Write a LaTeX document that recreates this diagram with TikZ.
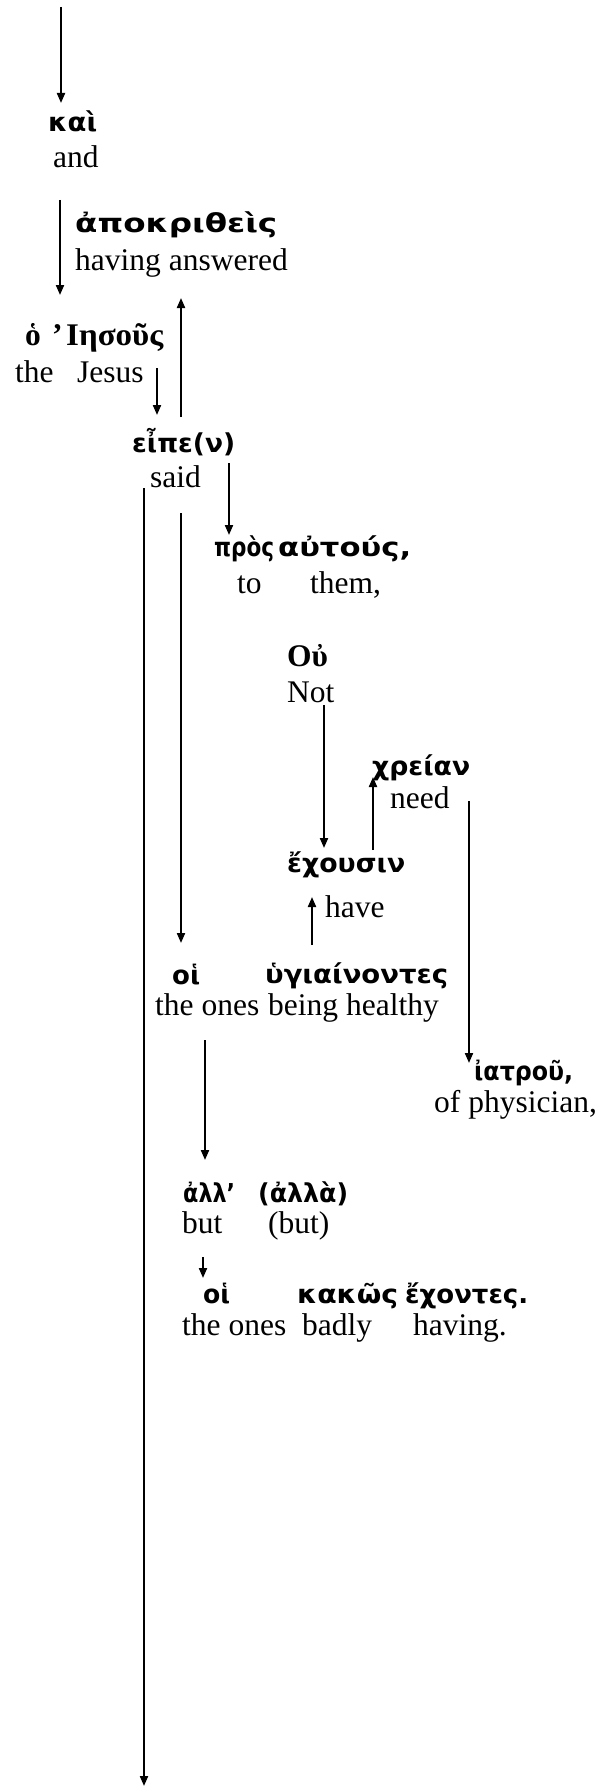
\documentclass[tikz,border=0pt]{standalone}
\usepackage{graphicx}
\usepackage{fontspec}
\setmainfont{Liberation Serif}
\newfontfamily\gkfont{DejaVu Sans}
\usetikzlibrary{arrows.meta}
\newcommand\gw[2]{\resizebox{#1pt}{\height}{#2}}
\begin{document}
\begin{tikzpicture}[x=1pt,y=-1pt,
  gr/.style={anchor=base west,inner sep=0pt,font=\gkfont\bfseries\fontsize{26}{30}\selectfont},
  en/.style={anchor=base west,inner sep=0pt,font=\fontsize{31.5}{36}\selectfont},
  sb/.style={anchor=base west,inner sep=0pt,font=\bfseries\fontsize{31.5}{36}\selectfont},
  arr/.style={line width=2pt,-{Triangle[length=10pt,width=8pt]}}]
\useasboundingbox (0,0) rectangle (598,1787);
% texts
\node[gr] (kai) at (48,132) {\gw{49}{καὶ}};
\node[en] (kaiE) at (53,168) {and};
\node[gr] (apo) at (75,233) {\gw{202}{ἀποκριθεὶς}};
\node[en] (apoE) at (75,270) {having answered};
\node[sb] (ho) at (25,345) {ὁ};
\node[sb] (apos) at (52,345) {’};
\node[sb] (ies) at (66,345) {\gw{97}{Ιησοῦς}};
\node[en] (iesE1) at (15,382) {the};
\node[en] (iesE2) at (77,382) {Jesus};
\node[gr] (eipe) at (132,452) {\gw{103}{εἶπε(ν)}};
\node[en] (eipeE) at (150,487) {said};
\node[gr] (pros) at (214,556) {\gw{60}{πρὸς}};
\node[gr] (autous) at (278,556) {\gw{133}{αὐτούς,}};
\node[en] (prosE) at (237,593) {to};
\node[en] (autousE) at (310,593) {them,};
\node[sb] (ou) at (287,666) {Οὐ};
\node[en] (ouE) at (287,702) {Not};
\node[gr] (chreian) at (372,775) {\gw{98}{χρείαν}};
\node[en] (chreianE) at (390,808) {need};
\node[gr] (echousin) at (287,872) {\gw{118}{ἔχουσιν}};
\node[en] (echousinE) at (325,917) {have};
\node[gr] (hoi1) at (172,984) {\gw{28}{οἱ}};
\node[gr] (hyg) at (265,983) {\gw{183}{ὑγιαίνοντες}};
\node[en] (hoi1E) at (155,1015) {the ones};
\node[en] (hygE) at (268,1015) {being healthy};
\node[gr] (iatrou) at (474,1080) {\gw{99}{ἰατροῦ,}};
\node[en] (iatrouE) at (434,1112) {of physician,};
\node[gr] (all) at (183,1202) {\gw{52}{ἀλλ’}};
\node[gr] (alla) at (258,1202) {\gw{90}{(ἀλλὰ)}};
\node[en] (allE) at (182,1233) {but};
\node[en] (allaE) at (268,1233) {(but)};
\node[gr] (hoi2) at (203,1303) {\gw{27}{οἱ}};
\node[gr] (kakos) at (297,1303) {\gw{101}{κακῶς}};
\node[gr] (echontes) at (405,1303) {\gw{123}{ἔχοντες.}};
\node[en] (hoi2E) at (182,1335) {the ones};
\node[en] (kakosE) at (302,1335) {badly};
\node[en] (echontesE) at (413,1335) {having.};
% connector end points
\coordinate (a1s) at (61,7);     \coordinate (a1e) at (61,103);
\coordinate (a2s) at (60,200);   \coordinate (a2e) at (60,295);
\coordinate (a3s) at (181,417);  \coordinate (a3e) at (181,298);
\coordinate (a4s) at (157,368);  \coordinate (a4e) at (157,415);
\coordinate (a5s) at (229,463);  \coordinate (a5e) at (229,535);
\coordinate (a6s) at (144,488);  \coordinate (a6e) at (144,1786);
\coordinate (a7s) at (181,513);  \coordinate (a7e) at (181,943);
\coordinate (a8s) at (324,705);  \coordinate (a8e) at (324,848);
\coordinate (a9s) at (373,850);  \coordinate (a9e) at (373,777);
\coordinate (a10s) at (469,801); \coordinate (a10e) at (469,1063);
\coordinate (a11s) at (312,945); \coordinate (a11e) at (312,897);
\coordinate (a12s) at (205,1040);\coordinate (a12e) at (205,1160);
\coordinate (a13s) at (203,1257);\coordinate (a13e) at (203,1278);
\draw[arr] (a1s) -- (a1e);
\draw[arr] (a2s) -- (a2e);
\draw[arr] (a3s) -- (a3e);
\draw[arr] (a4s) -- (a4e);
\draw[arr] (a5s) -- (a5e);
\draw[arr] (a6s) -- (a6e);
\draw[arr] (a7s) -- (a7e);
\draw[arr] (a8s) -- (a8e);
\draw[arr] (a9s) -- (a9e);
\draw[arr] (a10s) -- (a10e);
\draw[arr] (a11s) -- (a11e);
\draw[arr] (a12s) -- (a12e);
\draw[arr] (a13s) -- (a13e);
\end{tikzpicture}
\end{document}
